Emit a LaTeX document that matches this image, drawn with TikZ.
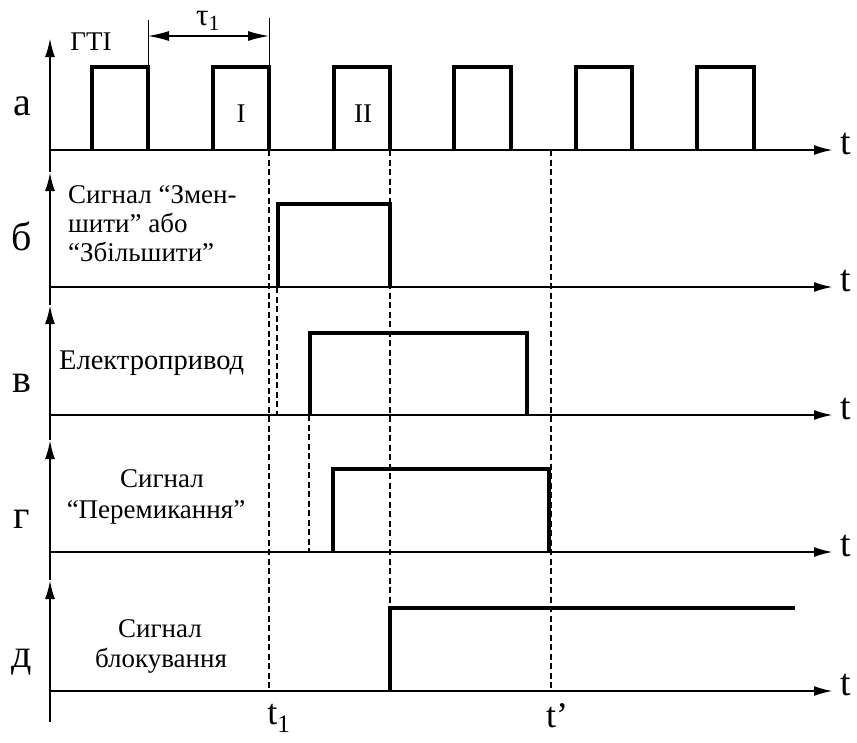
\documentclass[tikz,border=0pt]{standalone}
\usepackage{fontspec}
\setmainfont{Liberation Serif}
\usetikzlibrary{arrows.meta}

\tikzset{
  axisline/.style={line width=2.3pt, -{Latex[length=19pt,width=10pt]}},
  sig/.style={line width=3.2pt, line join=miter},
  guide/.style={line width=1.1pt, dash pattern=on 6pt off 3.5pt},
  extline/.style={line width=1pt},
  dimarrow/.style={line width=1.3pt, {Latex[length=21pt,width=10pt]}-{Latex[length=21pt,width=10pt]}},
  rowlbl/.style={font=\fontsize{40}{44}\selectfont, inner sep=0pt, anchor=base},
  txt/.style={font=\fontsize{27}{30}\selectfont, inner sep=0pt, anchor=base},
  tlbl/.style={font=\fontsize{38}{42}\selectfont, inner sep=0pt},
}

\begin{document}
\begin{tikzpicture}[x=1pt, y=-1pt]
  \useasboundingbox (0,0) rectangle (857,742);

  \def\tend{833}

  % dashed guide lines
  \draw[guide] (269,150) -- (269,691);
  \draw[guide] (277,287) -- (277,415);
  \draw[guide] (309,415) -- (309,552);
  \draw[guide] (390,150) -- (390,608);
  \draw[guide] (551,150) -- (551,691);

  % vertical axis with an arrow for every row
  \coordinate (v0) at (50,722);
  \coordinate (v1) at (50,580);
  \coordinate (v2) at (50,440);
  \coordinate (v3) at (50,305);
  \coordinate (v4) at (50,172);
  \coordinate (v5) at (50,38);
  \draw[axisline] (v0) -- (v1);
  \draw[axisline] (v1) -- (v2);
  \draw[axisline] (v2) -- (v3);
  \draw[axisline] (v3) -- (v4);
  \draw[axisline] (v4) -- (v5);

  % time axes
  \foreach \yb/\nm in {150/a,287/b,415/c,552/d,691/e}{
    \coordinate (ax\nm) at (50,\yb);
    \coordinate (axend\nm) at (\tend,\yb);
    \draw[axisline] (ax\nm) -- (axend\nm);
    \node[tlbl, anchor=west] (t\nm) at (840,\yb-6) {t};
  }

  % row a: clock pulses
  \foreach \xl/\xr in {92/148,213/269,334/390,454/511,576/632,697/754}{
    \draw[sig] (\xl,150) -- (\xl,67) -- (\xr,67) -- (\xr,150);
  }
  \node[txt] (gti) at (91,50) {ГТІ};
  \node[txt] (p1) at (241,122) {I};
  \node[txt] (p2) at (363,122) {II};

  % period dimension
  \coordinate (d1) at (148,67);
  \coordinate (d2) at (269,67);
  \draw[extline] (d1) -- (148,20);
  \draw[extline] (d2) -- (269,18);
  \coordinate (dl) at (148,36);
  \coordinate (dr) at (269,36);
  \draw[dimarrow] (dl) -- (dr);
  \node[txt, font=\fontsize{31}{34}\selectfont] (tau) at (208,25) {τ\textsubscript{1}};

  % row b
  \draw[sig] (278,287) -- (278,204) -- (390,204) -- (390,287);
  \node[txt, anchor=base west] (b1) at (68,203) {Сигнал “Змен-};
  \node[txt, anchor=base west] (b2) at (68,232) {шити” або};
  \node[txt, anchor=base west] (b3) at (68,261) {“Збільшити”};

  % row c
  \draw[sig] (310,415) -- (310,333) -- (527,333) -- (527,415);
  \node[txt, anchor=base west, font=\fontsize{28.5}{30}\selectfont] (ctxt) at (59,369) {Електропривод};

  % row d
  \draw[sig] (333,552) -- (333,469) -- (549,469) -- (549,552);
  \node[txt] (d1t) at (162,487) {Сигнал};
  \node[txt] (d2t) at (156,518) {“Перемикання”};

  % row e
  \draw[sig] (390,691) -- (390,608) -- (795,608);
  \node[txt] (e1t) at (160,637) {Сигнал};
  \node[txt] (e2t) at (161,667) {блокування};

  % row letters
  \node[rowlbl] (la) at (22,115) {а};
  \node[rowlbl] (lb) at (22,250) {б};
  \node[rowlbl] (lc) at (22,392) {в};
  \node[rowlbl] (ld) at (22,528) {г};
  \node[rowlbl] (le) at (22,667) {д};

  % time marks
  \node[tlbl, font=\fontsize{36}{40}\selectfont] (t1) at (279,718) {t\textsubscript{1}};
  \node[tlbl, font=\fontsize{36}{40}\selectfont] (tp) at (557,716) {t'};
\end{tikzpicture}
\end{document}
